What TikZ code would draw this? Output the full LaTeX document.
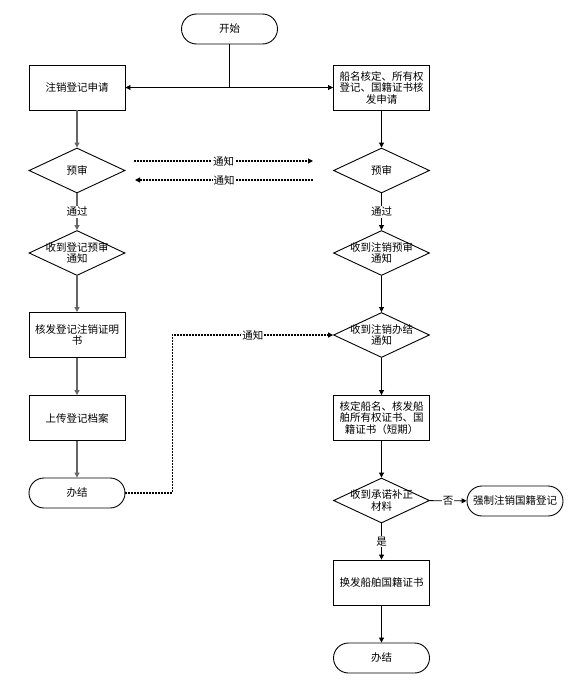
\documentclass[tikz,border=0pt]{standalone}
\usepackage{fontspec}
\newfontfamily\cjk{Noto Sans CJK SC}
\usetikzlibrary{arrows.meta}
\usetikzlibrary{shapes.geometric}

\begin{document}
\begin{tikzpicture}[x=1pt, y=-1pt, line width=0.9pt,
    every node/.style={font=\cjk\fontsize{10.5}{11.5}\selectfont, align=center},
    box/.style={draw, minimum width=96pt, minimum height=45pt, inner sep=0pt},
    term/.style={draw, rounded corners=15pt, minimum width=96pt, minimum height=30pt, inner sep=0pt},
    dia/.style={draw, diamond, minimum width=96pt, minimum height=45pt, inner sep=0pt},
    arr/.style={-{Triangle[length=5pt,width=5pt]}},
    grayarr/.style={arr, draw=black!60, line width=1.3pt},
    note/.style={arr, line width=1.1pt, dash pattern=on 2pt off 1pt},
    lbl/.style={fill=white, inner sep=1pt}]
      \useasboundingbox (0,0) rectangle (579,685);

      % left column
      \node[term] (start) at (229.5,29) {开始};
      \node[box] (lbox) at (77,87.5) {注销登记申请};
      \node[dia, label={center:预审}] (lpre) at (77,170.5) {};
      \node[dia, label={center:收到登记预审\\通知}] (lrecv) at (77,253) {};
      \node[box] (lcert) at (77,335) {核发登记注销证明\\书};
      \node[box] (lupload) at (77,418) {上传登记档案};
      \node[term] (lend) at (77,493) {办结};

      % right column
      \node[box] (rbox) at (381.5,87.5) {船名核定、所有权\\登记、国籍证书核\\发申请};
      \node[dia, label={center:预审}] (rpre) at (381.5,170.5) {};
      \node[dia, label={center:收到注销预审\\通知}] (rrecv) at (381.5,253) {};
      \node[dia, label={center:收到注销办结\\通知}] (rfin) at (381.5,335) {};
      \node[box] (rissue) at (381.5,418) {核定船名、核发船\\舶所有权证书、国\\籍证书（短期）};
      \node[dia, label={center:收到承诺补正\\材料}] (rcommit) at (381.5,500.5) {};
      \node[term] (force) at (515,501) {强制注销国籍登记};
      \node[box] (rnew) at (381.5,582.5) {换发船舶国籍证书};
      \node[term] (rend) at (381.5,658) {办结};

      \coordinate (ntfa) at (134,161);
      \coordinate (ntfb) at (313,161);
      \coordinate (ntfc) at (313,180);
      \coordinate (ntfd) at (135,180);

      \draw[arr] (start.south) |- (lbox.east);
      \draw[arr] (start.south) |- (rbox.west);

      \draw[grayarr] (lbox) -- (lpre);
      \draw[grayarr] (lpre) -- node[lbl] {通过} (lrecv);
      \draw[grayarr] (lrecv) -- (lcert);
      \draw[grayarr] (lcert) -- (lupload);
      \draw[grayarr] (lupload) -- (lend);

      \draw[arr] (rbox) -- (rpre);
      \draw[arr] (rpre) -- node[lbl] {通过} (rrecv);
      \draw[arr] (rrecv) -- (rfin);
      \draw[arr] (rfin) -- (rissue);
      \draw[arr] (rissue) -- (rcommit);
      \draw[arr] (rcommit) -- node[lbl] {否} (force);
      \draw[arr] (rcommit) -- node[lbl] {是} (rnew);
      \draw[arr] (rnew) -- (rend);

      \draw[note] (ntfa) -- node[lbl] {通知} (ntfb);
      \draw[note] (ntfc) -- node[lbl] {通知} (ntfd);
      \draw[note] (lend.east) -- ++(47,0) |- node[lbl, pos=0.75] {通知} (rfin.west);

    \end{tikzpicture}
\end{document}
